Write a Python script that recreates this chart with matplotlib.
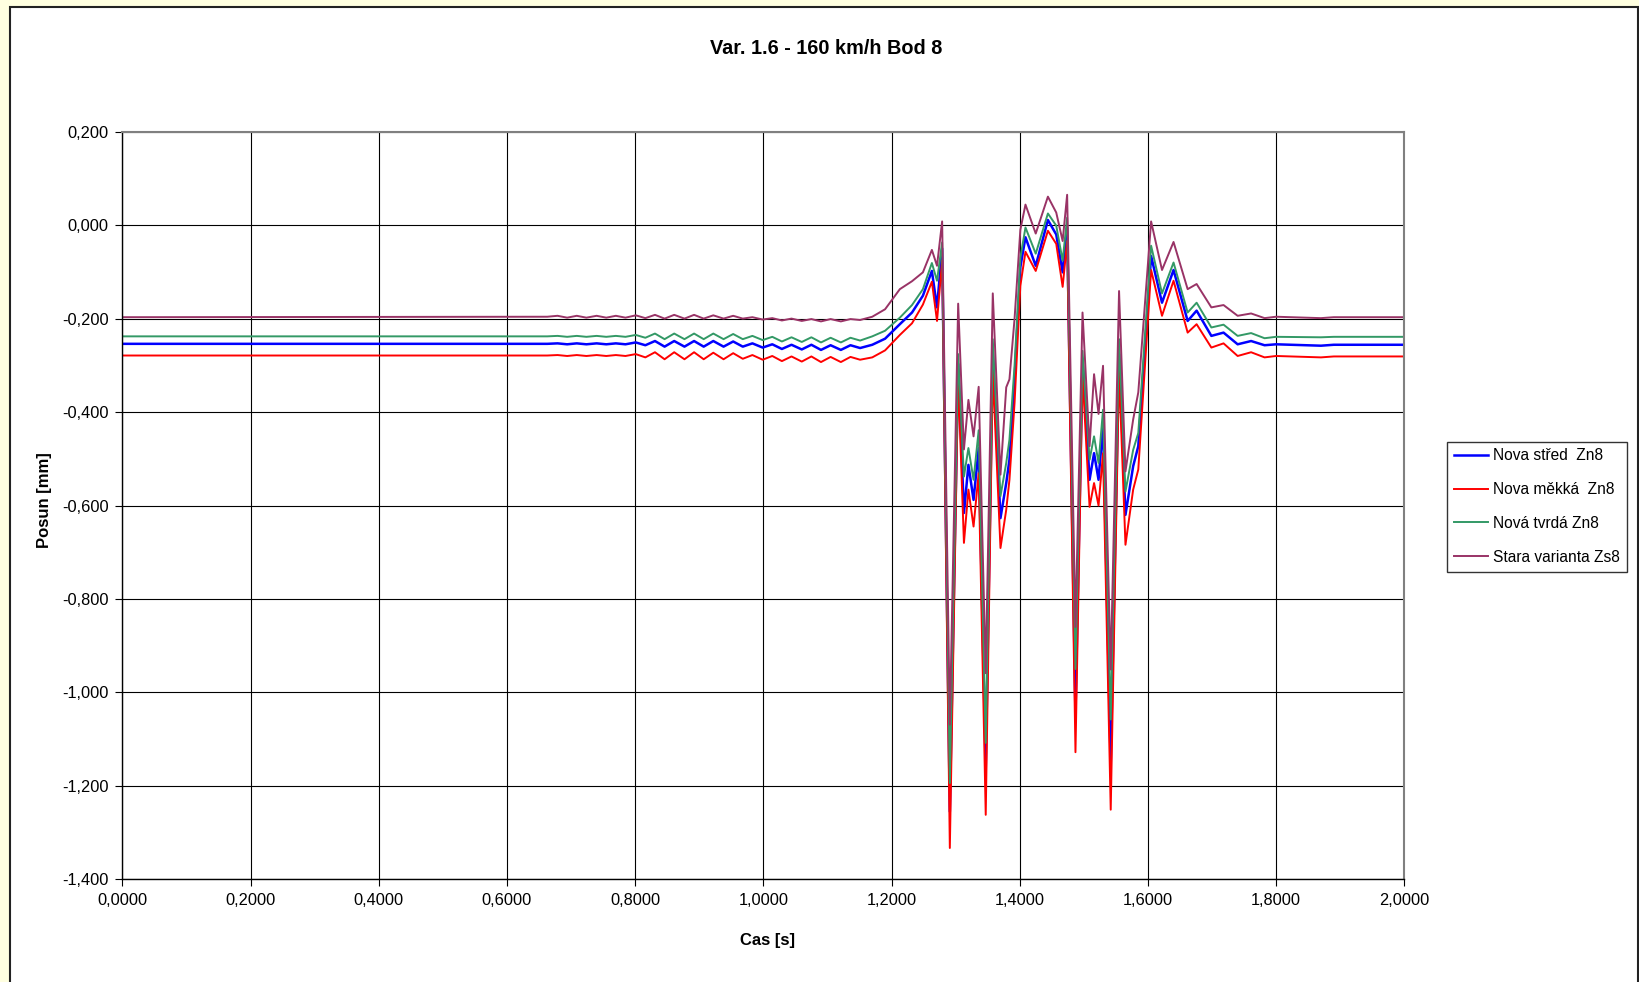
"""Var. 1.6 - 160 km/h, Bod 8: posun v case pro ctyri varianty."""

import matplotlib
matplotlib.use("Agg")
import matplotlib.pyplot as plt
from matplotlib.patches import Rectangle
from matplotlib.ticker import FuncFormatter, MultipleLocator

plt.rcParams["font.family"] = ["Liberation Sans", "DejaVu Sans"]

# cas [s]
cas = (
    [0.000]
    + [0.663, 0.679, 0.694, 0.709, 0.724, 0.740, 0.755, 0.770, 0.785, 0.801, 0.816,
       0.831, 0.846, 0.861, 0.877, 0.892, 0.907, 0.922, 0.938, 0.953, 0.968, 0.983,
       0.999, 1.014, 1.029, 1.044, 1.060, 1.075, 1.090, 1.105, 1.121, 1.136, 1.151]
    + [1.170, 1.190, 1.213, 1.232, 1.249, 1.263, 1.271, 1.279, 1.291, 1.304, 1.313,
       1.320, 1.328, 1.336, 1.347, 1.358, 1.370, 1.379, 1.384, 1.392, 1.401, 1.409,
       1.425, 1.444, 1.457, 1.467, 1.474, 1.487, 1.498, 1.509, 1.516, 1.523, 1.530,
       1.542, 1.555, 1.565, 1.577, 1.585, 1.595, 1.605, 1.622, 1.640, 1.662, 1.676,
       1.699, 1.718, 1.740, 1.761, 1.782, 1.800, 1.870, 1.890, 2.000]
)

nova_stred = (
    [-0.254]
    + [-0.254, -0.253, -0.255, -0.253, -0.255, -0.253, -0.255, -0.253, -0.255, -0.251, -0.257,
       -0.248, -0.260, -0.248, -0.260, -0.248, -0.260, -0.248, -0.260, -0.249, -0.260, -0.253,
       -0.262, -0.255, -0.265, -0.256, -0.266, -0.256, -0.267, -0.257, -0.267, -0.257, -0.263]
    + [-0.256, -0.243, -0.212, -0.187, -0.151, -0.098, -0.176, -0.050, -1.255, -0.297, -0.616,
       -0.513, -0.588, -0.477, -1.165, -0.273, -0.627, -0.552, -0.502, -0.330, -0.090, -0.026,
       -0.087, 0.011, -0.020, -0.101, -0.005, -1.048, -0.290, -0.545, -0.488, -0.545, -0.427,
       -1.155, -0.276, -0.620, -0.516, -0.473, -0.270, -0.066, -0.166, -0.096, -0.205, -0.183,
       -0.237, -0.230, -0.255, -0.248, -0.257, -0.255, -0.258, -0.256, -0.256]
)

nova_mekka = (
    [-0.279]
    + [-0.279, -0.278, -0.280, -0.278, -0.280, -0.278, -0.280, -0.278, -0.280, -0.276, -0.283,
       -0.272, -0.287, -0.272, -0.287, -0.272, -0.287, -0.273, -0.287, -0.274, -0.286, -0.278,
       -0.288, -0.280, -0.291, -0.281, -0.292, -0.281, -0.293, -0.282, -0.293, -0.282, -0.288]
    + [-0.283, -0.268, -0.235, -0.210, -0.170, -0.121, -0.205, -0.076, -1.333, -0.326, -0.680,
       -0.566, -0.645, -0.531, -1.262, -0.312, -0.691, -0.609, -0.545, -0.380, -0.130, -0.057,
       -0.098, -0.012, -0.040, -0.132, -0.034, -1.128, -0.319, -0.603, -0.552, -0.600, -0.488,
       -1.251, -0.312, -0.684, -0.566, -0.523, -0.310, -0.096, -0.194, -0.119, -0.230, -0.212,
       -0.262, -0.253, -0.280, -0.272, -0.283, -0.280, -0.283, -0.281, -0.281]
)

nova_tvrda = (
    [-0.238]
    + [-0.238, -0.237, -0.239, -0.237, -0.239, -0.237, -0.239, -0.237, -0.239, -0.235, -0.241,
       -0.232, -0.244, -0.232, -0.244, -0.232, -0.244, -0.232, -0.244, -0.233, -0.244, -0.237,
       -0.246, -0.239, -0.249, -0.240, -0.250, -0.240, -0.251, -0.241, -0.251, -0.241, -0.247]
    + [-0.238, -0.226, -0.198, -0.171, -0.137, -0.081, -0.119, -0.037, -1.194, -0.276, -0.538,
       -0.477, -0.545, -0.439, -1.108, -0.244, -0.580, -0.509, -0.459, -0.300, -0.070, -0.005,
       -0.061, 0.025, -0.001, -0.076, 0.016, -0.950, -0.269, -0.502, -0.452, -0.509, -0.395,
       -1.058, -0.244, -0.570, -0.481, -0.445, -0.243, -0.044, -0.146, -0.080, -0.187, -0.166,
       -0.219, -0.213, -0.237, -0.231, -0.242, -0.239, -0.240, -0.239, -0.239]
)

stara_varianta = (
    [-0.197]
    + [-0.196, -0.194, -0.198, -0.194, -0.198, -0.194, -0.198, -0.194, -0.198, -0.193, -0.199,
       -0.192, -0.200, -0.192, -0.200, -0.192, -0.200, -0.193, -0.200, -0.194, -0.200, -0.197,
       -0.202, -0.199, -0.204, -0.200, -0.205, -0.201, -0.206, -0.201, -0.206, -0.201, -0.203]
    + [-0.196, -0.180, -0.137, -0.120, -0.101, -0.053, -0.087, 0.008, -1.069, -0.168, -0.480,
       -0.374, -0.452, -0.346, -0.959, -0.146, -0.534, -0.347, -0.330, -0.200, -0.010, 0.044,
       -0.018, 0.061, 0.027, -0.034, 0.065, -0.860, -0.187, -0.473, -0.319, -0.404, -0.301,
       -0.951, -0.141, -0.527, -0.416, -0.358, -0.175, 0.008, -0.096, -0.036, -0.137, -0.126,
       -0.176, -0.171, -0.194, -0.189, -0.199, -0.196, -0.199, -0.197, -0.197]
)

series = [
    ("Nova střed  Zn8", nova_stred, "#0000FF", 1.8),
    ("Nova měkká  Zn8", nova_mekka, "#FF0000", 1.4),
    ("Nová tvrdá Zn8", nova_tvrda, "#339966", 1.4),
    ("Stara varianta Zs8", stara_varianta, "#993366", 1.4),
]

W, H = 1639, 982
fig = plt.figure(figsize=(W / 100, H / 100), dpi=100)
fig.patch.set_facecolor("#FFFFE0")

# bila plocha grafu s ramem
fig.add_artist(Rectangle((10 / W, -0.01), (1638 - 10) / W, 1 - 7 / H + 0.01,
                         transform=fig.transFigure, facecolor="white",
                         edgecolor="#222222", linewidth=1.5, zorder=0))

ax = fig.add_axes([122.3 / W, 1 - 879.3 / H, (1404.3 - 122.3) / W, (879.3 - 131.7) / H])
ax.set_facecolor("white")

for label, vals, color, lw in series:
    ax.plot(cas, vals, color=color, linewidth=lw, label=label, solid_joinstyle="round")

ax.set_xlim(0, 2.0)
ax.set_ylim(-1.4, 0.2)
ax.xaxis.set_major_locator(MultipleLocator(0.2))
ax.yaxis.set_major_locator(MultipleLocator(0.2))
ax.xaxis.set_major_formatter(FuncFormatter(lambda v, p: f"{v:.4f}".replace(".", ",")))
ax.yaxis.set_major_formatter(FuncFormatter(lambda v, p: f"{v:.3f}".replace(".", ",")))
ax.tick_params(axis="both", direction="out", length=5, width=0.8, color="black",
               labelsize=11.8, pad=5)
ax.grid(True, color="black", linewidth=0.8)
ax.set_axisbelow(True)

for side in ["left", "bottom"]:
    ax.spines[side].set_color("black")
    ax.spines[side].set_linewidth(1.0)
for side in ["top", "right"]:
    ax.spines[side].set_color("#808080")
    ax.spines[side].set_linewidth(1.5)

fig.text(826 / W, 1 - 48 / H, "Var. 1.6 - 160 km/h Bod 8", ha="center", va="center",
         fontsize=14.3, fontweight="bold")
fig.text(44 / W, 1 - 500 / H, "Posun [mm]", ha="center", va="center", rotation=90,
         fontsize=12, fontweight="bold")
fig.text(768 / W, 1 - 941 / H, "Cas [s]", ha="center", va="center",
         fontsize=12, fontweight="bold")

leg = fig.legend(loc="center left", bbox_to_anchor=(1447 / W, 1 - 506.5 / H),
                 fontsize=11.2, frameon=True, fancybox=False, edgecolor="black",
                 handlelength=2.2, handletextpad=0.3, labelspacing=1.2,
                 borderpad=0.45, borderaxespad=0)
leg.get_frame().set_linewidth(1.0)

fig.savefig("out.png", dpi=100, facecolor=fig.get_facecolor())
